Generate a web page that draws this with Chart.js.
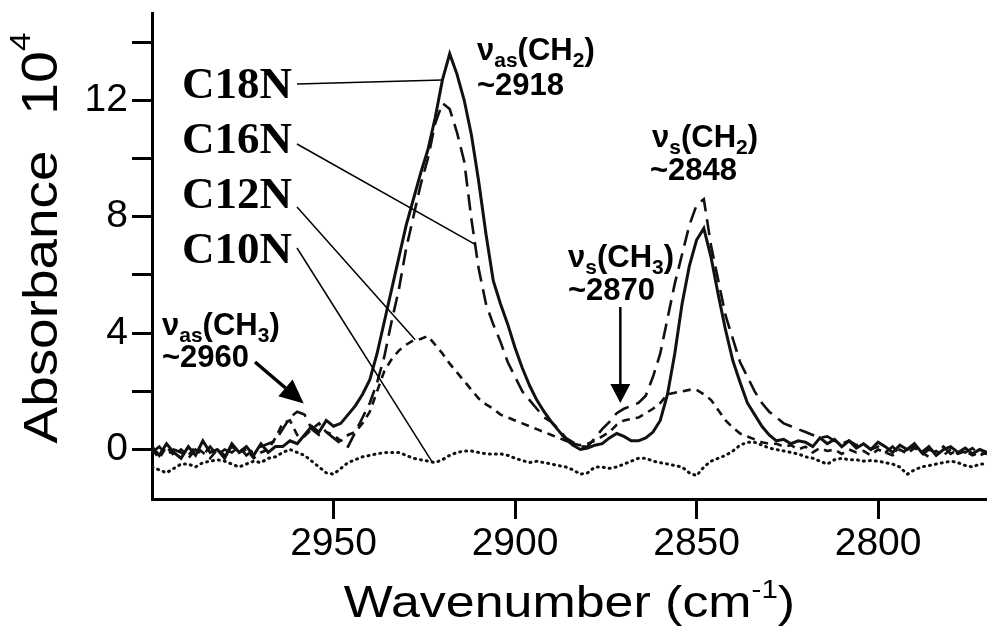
<!DOCTYPE html>
<html>
<head>
<meta charset="utf-8">
<script src="https://cdn.jsdelivr.net/npm/chart.js@4.4.0/dist/chart.umd.min.js"></script>
<style>
  html, body { margin: 0; padding: 0; background: #fff; }
  #chart { display: block; }
</style>
</head>
<body>
<canvas id="chart" width="987" height="640"></canvas>
<script>
// Wavenumber grid (cm-1), every 2 cm-1
const wavenumbers = [
  3000, 2998, 2996, 2994, 2992, 2990, 2988, 2986, 2984, 2982,
  2980, 2978, 2976, 2974, 2972, 2970, 2968, 2966, 2964, 2962,
  2960, 2958, 2956, 2954, 2952, 2950, 2948, 2946, 2944, 2942,
  2940, 2938, 2936, 2934, 2932, 2930, 2928, 2926, 2924, 2922,
  2920, 2918, 2916, 2914, 2912, 2910, 2908, 2906, 2904, 2902,
  2900, 2898, 2896, 2894, 2892, 2890, 2888, 2886, 2884, 2882,
  2880, 2878, 2876, 2874, 2872, 2870, 2868, 2866, 2864, 2862,
  2860, 2858, 2856, 2854, 2852, 2850, 2848, 2846, 2844, 2842,
  2840, 2838, 2836, 2834, 2832, 2830, 2828, 2826, 2824, 2822,
  2820, 2818, 2816, 2814, 2812, 2810, 2808, 2806, 2804, 2802,
  2800, 2798, 2796, 2794, 2792, 2790, 2788, 2786, 2784, 2782,
  2780, 2778, 2776, 2774, 2772, 2770
];

// Absorbance x 10^4
const c18n = [
  0.1, -0.2, 0.2, -0.1, -0.3, 0.1, -0.2, 0.3, -0.1, 0.0,
  -0.3, 0.2, -0.1, 0.1, -0.2, 0.2, -0.1, 0.1, 0.1, 0.3,
  0.2, 0.5, 0.8, 0.6, 1.0, 0.8, 0.9, 1.2, 1.5, 1.9,
  2.4, 3.3, 4.4, 5.5, 6.6, 7.7, 8.6, 9.5, 10.3, 11.4,
  12.7, 13.6, 12.9, 12.0, 10.8, 9.2, 7.4, 5.8, 5.0, 4.3,
  3.5, 2.8, 2.2, 1.7, 1.3, 0.95, 0.65, 0.35, 0.15, 0.0,
  0.05, 0.15, 0.2, 0.4, 0.55, 0.45, 0.3, 0.3, 0.4, 0.6,
  1.0, 1.9, 3.3, 5.0, 6.3, 7.2, 7.6, 6.6, 5.3, 4.1,
  3.05, 2.3, 1.6, 1.2, 0.8, 0.5, 0.3, 0.35, 0.2, 0.3,
  0.25, 0.1, 0.4, 0.2, 0.35, 0.1, 0.3, 0.05, 0.2, 0.0,
  0.25, 0.1, -0.1, 0.15, 0.0, 0.2, -0.1, 0.1, -0.2, 0.0,
  0.1, -0.1, 0.05, -0.15, 0.0, -0.1
];
const c16n = [
  -0.1, 0.1, -0.2, 0.0, -0.1, -0.3, 0.0, -0.2, 0.1, -0.2,
  0.0, -0.1, 0.1, -0.2, 0.0, 0.1, 0.2, 0.3, 0.7, 1.1,
  1.3, 1.2, 0.7, 0.5, 0.6, 0.4, 0.2, 0.1, 0.6, 1.1,
  1.6, 2.3, 3.2, 4.4, 5.5, 6.9, 8.0, 9.1, 10.0, 11.2,
  11.9, 11.7, 10.9, 9.9, 7.9, 6.2, 5.0, 4.3, 3.7, 3.0,
  2.5, 2.0, 1.7, 1.4, 1.1, 0.95, 0.7, 0.4, 0.25, 0.1,
  0.1, 0.4, 0.7, 0.95, 1.25, 1.4, 1.5, 1.6, 1.85, 2.5,
  3.3, 4.5, 5.7, 6.7, 7.7, 8.4, 8.6, 7.0, 5.8, 4.6,
  3.8, 3.0, 2.5, 2.0, 1.6, 1.3, 1.1, 0.9, 0.8, 0.7,
  0.6, 0.5, 0.4, 0.45, 0.3, 0.2, 0.3, 0.15, 0.2, 0.0,
  0.1, -0.1, 0.1, -0.15, 0.0, 0.1, -0.2, 0.0, -0.1, 0.1,
  -0.15, 0.0, -0.1, 0.05, -0.2, -0.1
];
const c12n = [
  0.0, -0.3, 0.1, -0.2, 0.0, -0.2, 0.1, -0.1, -0.3, 0.0,
  -0.2, 0.1, -0.1, 0.0, -0.3, -0.1, 0.0, 0.4, 0.9, 1.0,
  0.5, 0.45, 0.7, 0.9, 0.6, 0.5, 0.3, 0.5, 0.6, 0.9,
  1.3, 2.0, 2.7, 3.1, 3.4, 3.6, 3.75, 3.8, 3.9, 3.6,
  3.3, 2.95, 2.65, 2.35, 2.05, 1.75, 1.55, 1.4, 1.2, 1.1,
  1.0, 0.9, 0.8, 0.7, 0.6, 0.5, 0.4, 0.3, 0.2, 0.15,
  0.2, 0.3, 0.45, 0.6, 0.85, 1.0, 1.05, 1.1, 1.25, 1.4,
  1.6, 1.9, 1.95, 2.0, 2.05, 2.05, 1.9, 1.7, 1.35, 1.0,
  0.75, 0.55, 0.45, 0.35, 0.25, 0.2, 0.2, 0.1, 0.15, 0.0,
  0.1, -0.1, 0.05, -0.05, 0.0, -0.15, 0.0, -0.1, -0.05, -0.2,
  0.0, -0.1, -0.2, 0.0, -0.15, 0.05, -0.1, -0.25, -0.05, -0.2,
  0.0, -0.15, -0.05, -0.2, -0.1, -0.15
];
const c10n = [
  -0.6, -0.7, -0.8, -0.65, -0.5, -0.5, -0.6, -0.45, -0.4, -0.35,
  -0.4, -0.5, -0.6, -0.5, -0.4, -0.45, -0.3, -0.25, -0.1, 0.0,
  -0.1, -0.2, -0.4, -0.6, -0.8, -0.85, -0.65, -0.45, -0.35, -0.25,
  -0.2, -0.15, -0.1, -0.1, -0.1, -0.2, -0.3, -0.35, -0.4, -0.45,
  -0.35, -0.2, -0.1, -0.05, -0.05, -0.1, -0.15, -0.15, -0.15, -0.2,
  -0.3, -0.38, -0.45, -0.4, -0.45, -0.5, -0.55, -0.6, -0.7, -0.85,
  -0.8, -0.6, -0.6, -0.65, -0.6, -0.5, -0.4, -0.3, -0.3, -0.4,
  -0.45, -0.5, -0.55, -0.6, -0.8, -0.9, -0.6, -0.4, -0.3, -0.2,
  -0.05, 0.15, 0.25, 0.25, 0.15, 0.05, 0.0, -0.05, -0.1, -0.15,
  -0.25, -0.3, -0.4, -0.5, -0.35, -0.3, -0.35, -0.35, -0.4, -0.38,
  -0.4, -0.45, -0.5, -0.6, -0.85, -0.7, -0.6, -0.55, -0.5, -0.45,
  -0.4, -0.45, -0.55, -0.6, -0.5, -0.5
];

const xTicks = [2950, 2900, 2850, 2800];
const yTicks = [0, 2, 4, 6, 8, 10, 12, 14];
const yLabelled = [0, 4, 8, 12];

const SANS = '"Liberation Sans", Arial, sans-serif';
const SERIF = '"Liberation Serif", "Times New Roman", serif';

function toPoints(values) {
    return wavenumbers.map((w, i) => ({ x: w, y: values[i] }));
}

// draw a run of text pieces, each with its own size and vertical shift
function drawRich(ctx, x, y, parts) {
    let cx = x;
    parts.forEach(([text, font, dy]) => {
        ctx.font = font;
        ctx.fillText(text, cx, y + (dy || 0));
        cx += ctx.measureText(text).width;
    });
    return cx - x;
}

function richWidth(ctx, parts) {
    let w = 0;
    parts.forEach(([text, font]) => { ctx.font = font; w += ctx.measureText(text).width; });
    return w;
}

function drawArrow(ctx, x1, y1, x2, y2, headLen, headHalf, lw) {
    const ang = Math.atan2(y2 - y1, x2 - x1);
    const bx = x2 - headLen * Math.cos(ang);
    const by = y2 - headLen * Math.sin(ang);
    ctx.lineWidth = lw;
    ctx.beginPath();
    ctx.moveTo(x1, y1);
    ctx.lineTo(bx, by);
    ctx.stroke();
    ctx.beginPath();
    ctx.moveTo(x2, y2);
    ctx.lineTo(bx + headHalf * Math.sin(ang), by - headHalf * Math.cos(ang));
    ctx.lineTo(bx - headHalf * Math.sin(ang), by + headHalf * Math.cos(ang));
    ctx.closePath();
    ctx.fill();
}

const notesPlugin = {
    id: 'notes',
    afterDraw(chart) {
        const { ctx } = chart;
        const xs = chart.scales.x, ys = chart.scales.y;
        const px = w => xs.getPixelForValue(w);
        const py = v => ys.getPixelForValue(v);
        ctx.save();
        ctx.fillStyle = '#000';
        ctx.strokeStyle = '#000';
        ctx.textBaseline = 'alphabetic';

        // sample names with leader lines to their curves
        const names = [
            ['C18N', 98, 84, 2920, 12.7],
            ['C16N', 153, 144, 2911, 7.05],
            ['C12N', 208, 207, 2927.5, 3.77],
            ['C10N', 263, 248, 2922.8, -0.43]
        ];
        ctx.textAlign = 'right';
        ctx.font = 'bold 45px ' + SERIF;
        ctx.lineWidth = 1.5;
        names.forEach(([name, base, sy, w, v]) => {
            ctx.fillText(name, 292, base);
            ctx.beginPath();
            ctx.moveTo(297, sy);
            ctx.lineTo(px(w), py(v));
            ctx.stroke();
        });

        // band assignments
        ctx.textAlign = 'left';
        const F = 'bold 31px ' + SANS;
        const S = 'bold 21px ' + SANS;
        drawRich(ctx, 477, 60, [['\u03bd', F], ['as', S, 7], ['(CH', F], ['2', S, 7], [')', F]]);
        drawRich(ctx, 477, 95, [['~2918', F]]);
        drawRich(ctx, 652, 147, [['\u03bd', F], ['s', S, 7], ['(CH', F], ['2', S, 7], [')', F]]);
        drawRich(ctx, 650, 180, [['~2848', F]]);
        drawRich(ctx, 568, 267, [['\u03bd', F], ['s', S, 7], ['(CH', F], ['3', S, 7], [')', F]]);
        drawRich(ctx, 568, 300, [['~2870', F]]);
        drawRich(ctx, 162, 335, [['\u03bd', F], ['as', S, 7], ['(CH', F], ['3', S, 7], [')', F]]);
        drawRich(ctx, 162, 367, [['~2960', F]]);

        drawArrow(ctx, px(2871), 307, px(2871), py(1.6), 19, 10, 2.5);
        drawArrow(ctx, 255, 362, px(2958.2), py(1.58), 24, 11, 3.5);

        // x axis title, a little wider than plain Arial like the original
        const xt = [['Wavenumber (cm', '44px ' + SANS], ['-1', '25px ' + SANS, -19], [')', '44px ' + SANS]];
        const stretch = 1.18;
        const cx = (chart.chartArea.left + chart.chartArea.right) / 2;
        ctx.save();
        ctx.translate(cx, 617);
        ctx.scale(stretch, 1);
        drawRich(ctx, -richWidth(ctx, xt) / 2, 0, xt);
        ctx.restore();

        // y axis title, rotated
        ctx.save();
        ctx.translate(57, 297);
        ctx.rotate(-Math.PI / 2);
        ctx.scale(1.12, 1);
        ctx.textAlign = 'center';
        ctx.font = '49px ' + SANS;
        ctx.fillText('Absorbance', 0, 0);
        ctx.restore();

        ctx.save();
        ctx.translate(57, 115);
        ctx.rotate(-Math.PI / 2);
        ctx.scale(1.15, 1);
        ctx.textAlign = 'left';
        drawRich(ctx, 0, 0, [['10', '50px ' + SANS], ['4', '29px ' + SANS, -27]]);
        ctx.restore();

        ctx.restore();
    }
};

const ctx = document.getElementById('chart');
new Chart(ctx, {
    type: 'line',
    data: {
        datasets: [
            { label: 'C10N', data: toPoints(c10n), borderColor: '#111', borderWidth: 3,
              borderDash: [1, 5], borderCapStyle: 'round' },
            { label: 'C12N', data: toPoints(c12n), borderColor: '#111', borderWidth: 2.6,
              borderDash: [8, 6] },
            { label: 'C16N', data: toPoints(c16n), borderColor: '#111', borderWidth: 2.6,
              borderDash: [16, 8] },
            { label: 'C18N', data: toPoints(c18n), borderColor: '#111', borderWidth: 3 }
        ]
    },
    options: {
        responsive: false,
        devicePixelRatio: 1,
        animation: false,
        layout: { padding: { top: 13, left: 0, right: 0, bottom: 0 } },
        elements: { point: { radius: 0 }, line: { tension: 0, fill: false } },
        plugins: {
            legend: { display: false },
            tooltip: { enabled: false },
            title: { display: false }
        },
        scales: {
            x: {
                type: 'linear',
                reverse: true,
                min: 2770,
                max: 3000,
                afterBuildTicks: s => { s.ticks = xTicks.map(v => ({ value: v })); },
                afterFit: s => { s.height = 141; s.paddingLeft = 0; s.paddingRight = 0; },
                border: { display: true, color: '#000', width: 3 },
                grid: { display: true, drawOnChartArea: false, drawTicks: true,
                        tickLength: 20, tickWidth: 3, tickColor: '#000' },
                ticks: { color: '#000', padding: 2, maxRotation: 0,
                         font: { family: SANS, size: 39 },
                         callback: v => String(v) },
                title: { display: false }
            },
            y: {
                min: -1.7,
                max: 15,
                afterBuildTicks: s => { s.ticks = yTicks.map(v => ({ value: v })); },
                afterFit: s => { s.width = 152; s.paddingTop = 0; s.paddingBottom = 0; },
                border: { display: true, color: '#000', width: 3 },
                grid: { display: true, drawOnChartArea: false, drawTicks: true,
                        tickLength: 20, tickWidth: 3, tickColor: '#000' },
                ticks: {
                    color: '#000', padding: 4,
                    font: { family: SANS, size: 39 },
                    callback: v => yLabelled.includes(v) ? String(v) : ''
                },
                title: { display: false }
            }
        }
    },
    plugins: [notesPlugin]
});
</script>
</body>
</html>
